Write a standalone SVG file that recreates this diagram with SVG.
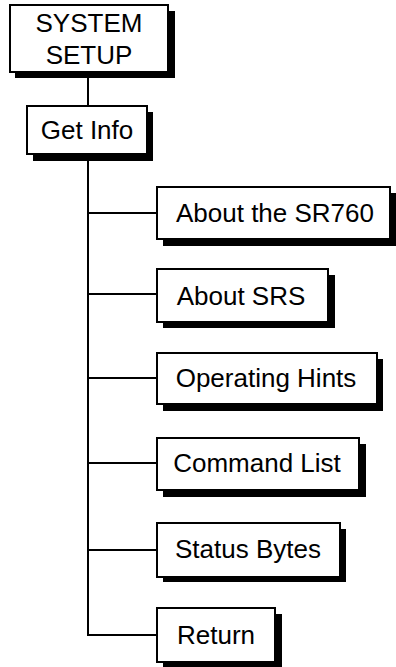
<svg xmlns="http://www.w3.org/2000/svg" width="396" height="667" viewBox="0 0 396 667">
<style>
.sh{fill:#000}
.bx{fill:#fff;stroke:#000;stroke-width:2}
.t{font-family:"Liberation Sans",Arial,sans-serif;font-size:26px;fill:#000;text-anchor:middle}
.c{stroke:#000;stroke-width:2;fill:none}
</style>
<rect width="396" height="667" fill="#fff"/>
<g id="connectors">
<line class="c" x1="88" y1="72" x2="88" y2="106"/>
<polyline class="c" points="88,154 88,635 157,635"/>
<line class="c" x1="88" y1="213" x2="157" y2="213"/>
<line class="c" x1="88" y1="294" x2="157" y2="294"/>
<line class="c" x1="88" y1="378" x2="157" y2="378"/>
<line class="c" x1="88" y1="463" x2="157" y2="463"/>
<line class="c" x1="88" y1="550" x2="157" y2="550"/>
</g>
<g id="system-setup">
<rect class="sh" x="15" y="11" width="160" height="67"/>
<rect class="bx" x="10" y="5" width="158" height="67"/>
<text class="t" x="89" y="32">SYSTEM</text>
<text class="t" x="89" y="64">SETUP</text>
</g>
<g id="get-info">
<rect class="sh" x="33" y="112" width="120" height="49"/>
<rect class="bx" x="27" y="106" width="120" height="48"/>
<text class="t" x="87" y="139">Get Info</text>
</g>
<g id="about-sr760">
<rect class="sh" x="163" y="193" width="233" height="53"/>
<rect class="bx" x="157" y="187" width="233" height="52"/>
<text class="t" x="275" y="222">About the SR760</text>
</g>
<g id="about-srs">
<rect class="sh" x="163" y="275" width="172" height="53"/>
<rect class="bx" x="157" y="269" width="171" height="53"/>
<text class="t" x="241" y="305">About SRS</text>
</g>
<g id="operating-hints">
<rect class="sh" x="163" y="359" width="220" height="52"/>
<rect class="bx" x="157" y="353" width="220" height="51"/>
<text class="t" x="266" y="387">Operating Hints</text>
</g>
<g id="command-list">
<rect class="sh" x="163" y="444" width="203" height="53"/>
<rect class="bx" x="157" y="438" width="202" height="52"/>
<text class="t" x="257" y="472">Command List</text>
</g>
<g id="status-bytes">
<rect class="sh" x="163" y="529" width="183" height="53"/>
<rect class="bx" x="157" y="523" width="183" height="54"/>
<text class="t" x="248" y="558">Status Bytes</text>
</g>
<g id="return">
<rect class="sh" x="163" y="614" width="119" height="53"/>
<rect class="bx" x="157" y="608" width="118" height="54"/>
<text class="t" x="216" y="644">Return</text>
</g>
</svg>
